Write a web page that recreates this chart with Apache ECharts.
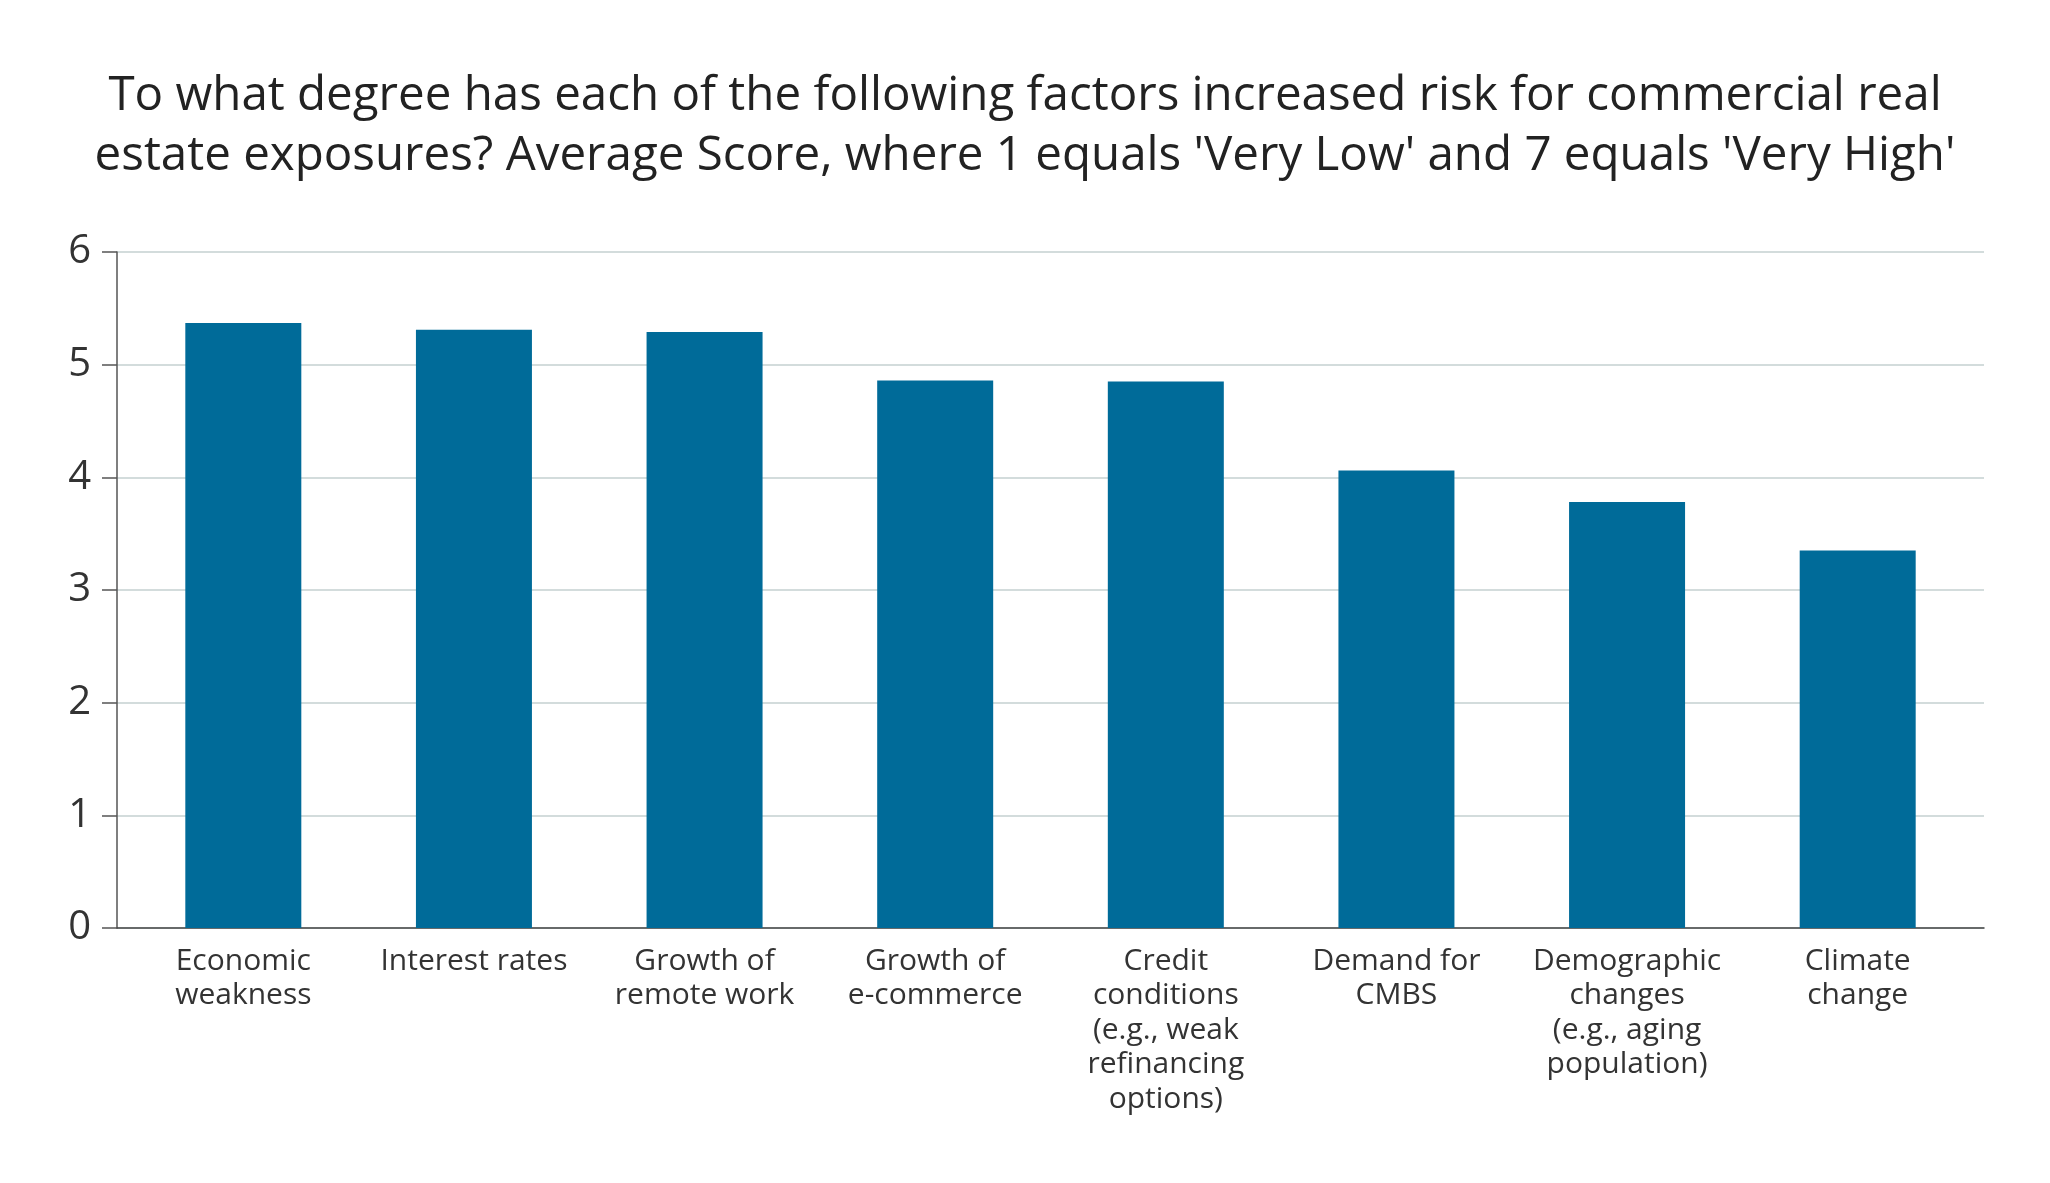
<!DOCTYPE html>
<html>
<head>
<meta charset="utf-8">
<script src="https://cdn.jsdelivr.net/npm/echarts@6/dist/echarts.min.js"></script>
<style>
  html, body { margin: 0; padding: 0; background: #fff; }
  #chart { width: 2050px; height: 1183px; }
</style>
</head>
<body>
<div id="chart"></div>
<script>
// factors shown along the x axis (line breaks as in the source)
var categories = [
  'Economic\nweakness',
  'Interest rates',
  'Growth of\nremote work',
  'Growth of\ne-commerce',
  'Credit\nconditions\n(e.g., weak\nrefinancing\noptions)',
  'Demand for\nCMBS',
  'Demographic\nchanges\n(e.g., aging\npopulation)',
  'Climate\nchange'
];
// average score per factor
var scores = [5.37, 5.31, 5.29, 4.86, 4.85, 4.06, 3.78, 3.35];
var yTicks = [0, 1, 2, 3, 4, 5, 6];

var titleText = 'To what degree has each of the following factors increased risk for commercial real\n' +
  'estate exposures? Average Score, where 1 equals \'Very Low\' and 7 equals \'Very High\'';

var FONT = '"Open Sans"';
var chart = echarts.init(document.getElementById('chart'));

var option = {
  backgroundColor: '#ffffff',
  animation: false,
  title: {
    text: titleText,
    left: 'center',
    top: 61,
    textStyle: {
      fontFamily: FONT,
      fontSize: 47.5,
      fontWeight: 'normal',
      color: '#222222',
      lineHeight: 60,
      align: 'center'
    }
  },
  // grid 0 carries the y axis, gridlines and full-width baseline
  // grid 1 carries the bars and category labels
  grid: [
    {left: 117, right: 66, top: 252, bottom: 255},
    {left: 128, right: 77, top: 252, bottom: 255}
  ],
  xAxis: [
    {
      gridIndex: 0,
      type: 'value',
      min: 0,
      max: 1,
      axisLine: {show: true, lineStyle: {color: '#444444', width: 1.5}},
      axisTick: {show: false},
      axisLabel: {show: false},
      splitLine: {show: false}
    },
    {
      gridIndex: 1,
      type: 'category',
      data: categories,
      axisLine: {show: false},
      axisTick: {show: false},
      axisLabel: {
        interval: 0,
        margin: 16,
        fontFamily: FONT,
        fontSize: 30,
        lineHeight: 34.5,
        color: '#333333',
        align: 'center'
      }
    }
  ],
  yAxis: [
    {
      gridIndex: 0,
      type: 'value',
      min: yTicks[0],
      max: yTicks[yTicks.length - 1],
      interval: 1,
      axisLine: {show: true, lineStyle: {color: '#555555', width: 1.5}},
      axisTick: {show: true, length: 15, lineStyle: {color: '#555555', width: 1.5}},
      axisLabel: {
        margin: 26,
        fontFamily: FONT,
        fontSize: 40,
        color: '#333333'
      },
      splitLine: {show: true, lineStyle: {color: '#d3dcdc', width: 2}}
    },
    {
      gridIndex: 1,
      type: 'value',
      min: yTicks[0],
      max: yTicks[yTicks.length - 1],
      interval: 1,
      show: false
    }
  ],
  series: [
    {
      type: 'bar',
      xAxisIndex: 1,
      yAxisIndex: 1,
      data: scores,
      barWidth: 116,
      itemStyle: {color: '#006b99'}
    }
  ]
};

chart.setOption(option);
</script>
</body>
</html>
